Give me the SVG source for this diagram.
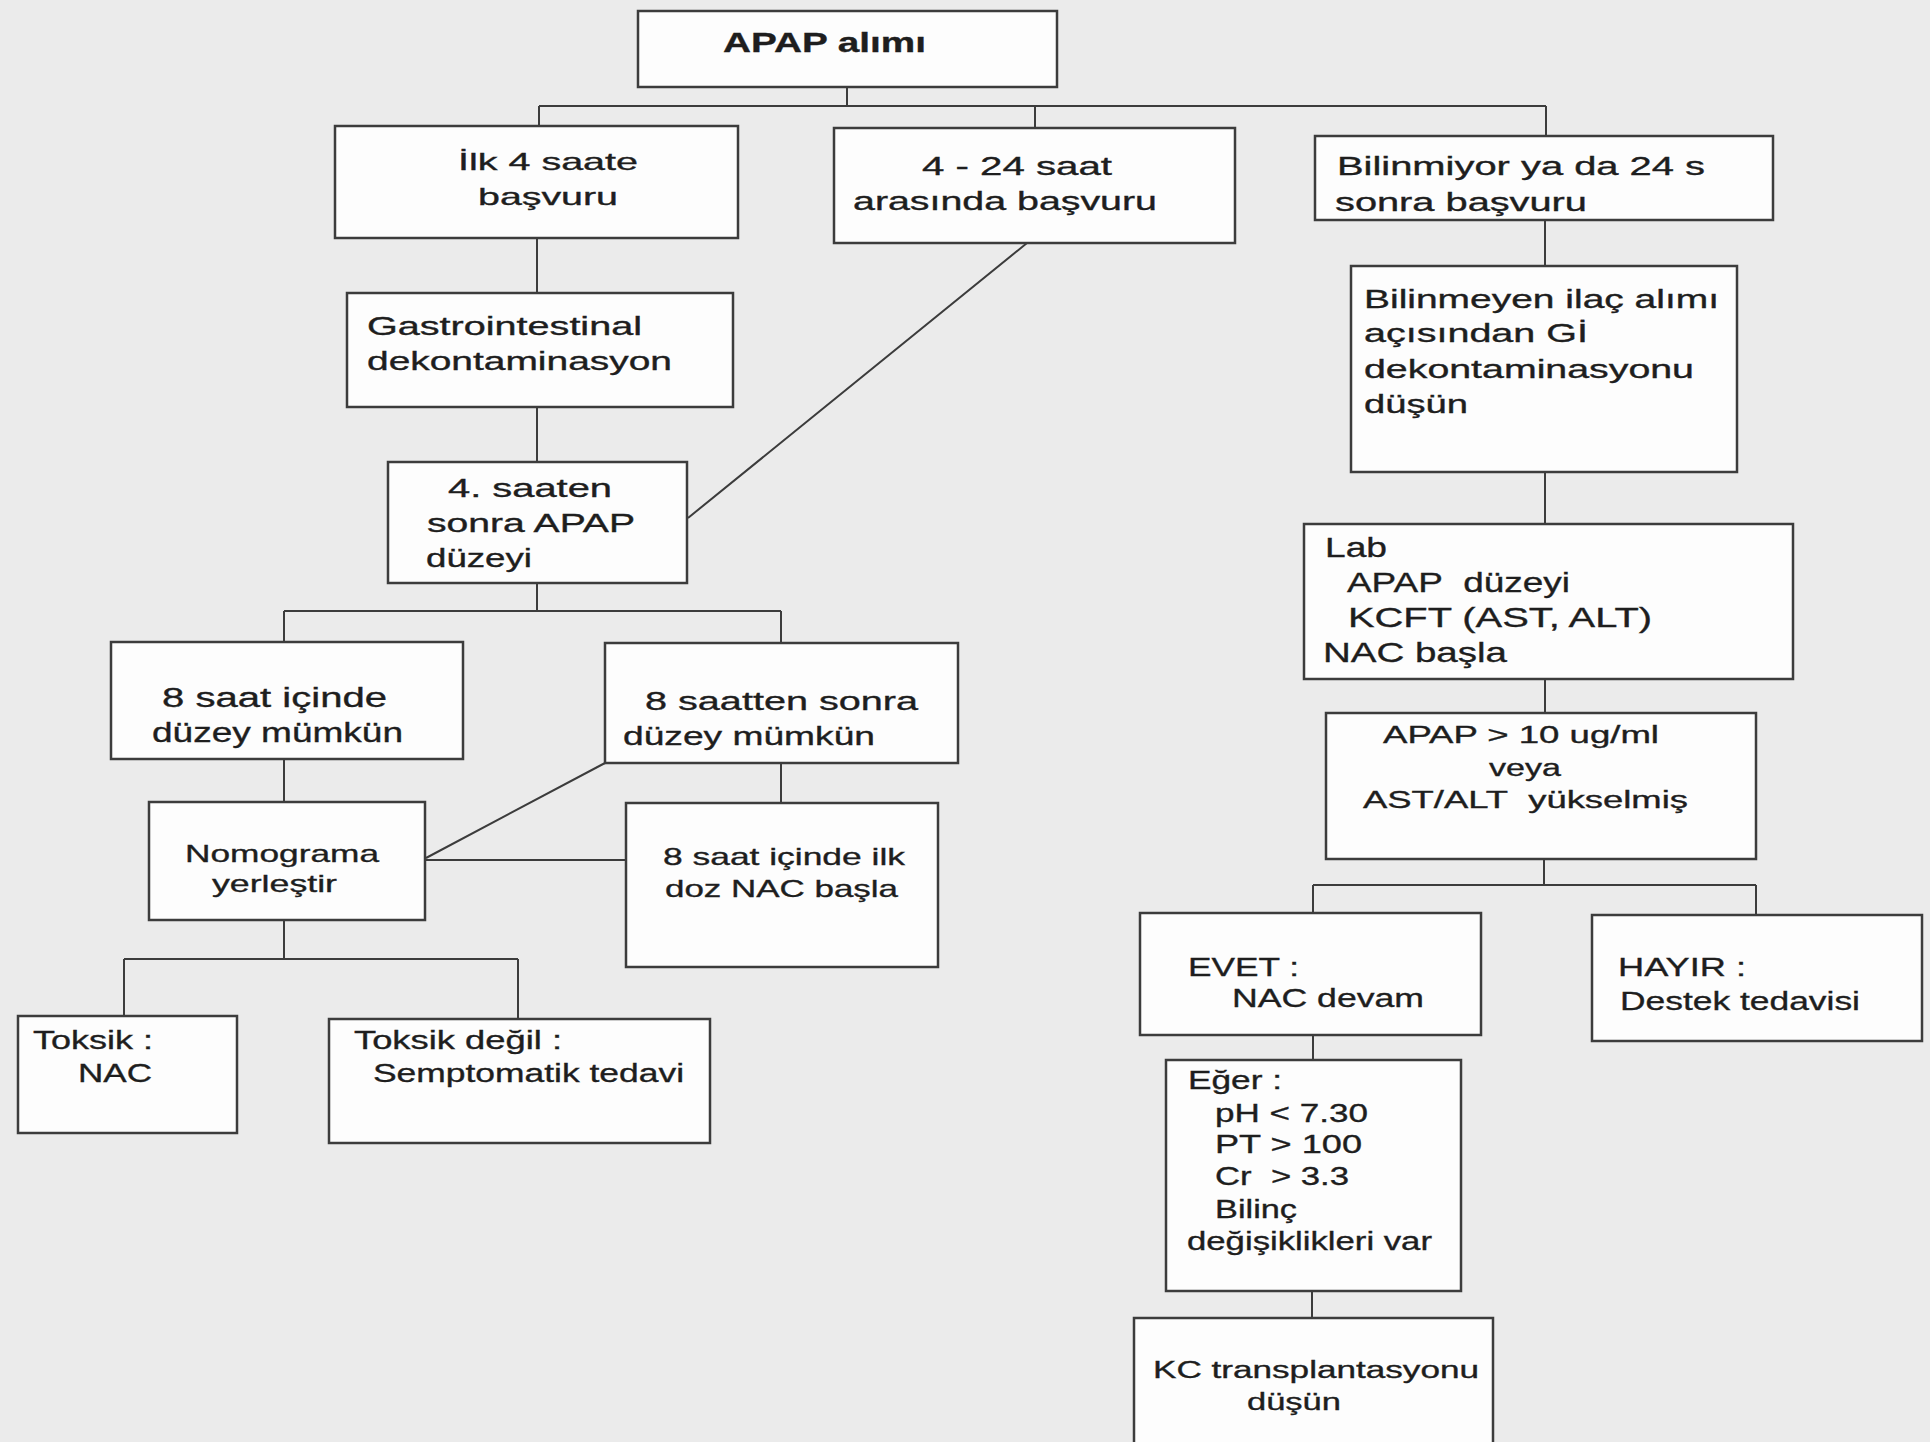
<svg xmlns="http://www.w3.org/2000/svg" width="1930" height="1442" viewBox="0 0 1930 1442">
<style>
.bg{fill:#ebebeb}
.box{fill:#fdfdfd;stroke:#3c3c3c;stroke-width:2.5}
.ln{fill:none;stroke:#3c3c3c;stroke-width:2}
text{font-family:"Liberation Sans",Arial,sans-serif;fill:#1e1e1e;stroke:#1e1e1e;stroke-width:0.35}
.b{font-weight:bold}
</style>
<rect class="bg" x="0" y="0" width="1930" height="1442"/>
<g id="connectors">
<path class="ln" d="M847,87 V106 M539,106 H1546 M539,106 V126 M1035,106 V128 M1546,106 V136"/>
<path class="ln" d="M537,238 V293 M537,407 V462 M1027,243 L688,518"/>
<path class="ln" d="M1545,220 V266 M1545,472 V524 M1545,679 V713"/>
<path class="ln" d="M537,583 V611 M284,611 H781 M284,611 V642 M781,611 V643"/>
<path class="ln" d="M284,759 V802 M781,763 V803 M605,763 L426,858 M425,860 H626"/>
<path class="ln" d="M284,920 V959 M124,959 H518 M124,959 V1016 M518,959 V1019"/>
<path class="ln" d="M1544,859 V885 M1313,885 H1756 M1313,885 V913 M1756,885 V915 M1313,1035 V1060 M1312,1291 V1318"/>
</g>
<g id="n1"><rect class="box" x="638" y="11" width="419" height="76"/>
<text class="b" font-size="28" x="723" y="52" textLength="203" lengthAdjust="spacingAndGlyphs">APAP alımı</text></g>
<g id="n2"><rect class="box" x="335" y="126" width="403" height="112"/>
<g font-size="24"><text x="458" y="170" textLength="180" lengthAdjust="spacingAndGlyphs">İlk 4 saate</text>
<text x="478" y="205" textLength="140" lengthAdjust="spacingAndGlyphs">başvuru</text></g></g>
<g id="n3"><rect class="box" x="834" y="128" width="401" height="115"/>
<g font-size="25"><text x="922" y="175" textLength="190" lengthAdjust="spacingAndGlyphs">4 - 24 saat</text>
<text x="853" y="210" textLength="304" lengthAdjust="spacingAndGlyphs">arasında başvuru</text></g></g>
<g id="n4"><rect class="box" x="1315" y="136" width="458" height="84"/>
<g font-size="25"><text x="1337" y="175" textLength="368" lengthAdjust="spacingAndGlyphs">Bilinmiyor ya da 24 s</text>
<text x="1335" y="211" textLength="252" lengthAdjust="spacingAndGlyphs">sonra başvuru</text></g></g>
<g id="n5"><rect class="box" x="347" y="293" width="386" height="114"/>
<g font-size="25"><text x="367" y="335" textLength="275" lengthAdjust="spacingAndGlyphs">Gastrointestinal</text>
<text x="367" y="370" textLength="305" lengthAdjust="spacingAndGlyphs">dekontaminasyon</text></g></g>
<g id="n6"><rect class="box" x="1351" y="266" width="386" height="206"/>
<g font-size="25"><text x="1364" y="308" textLength="355" lengthAdjust="spacingAndGlyphs">Bilinmeyen ilaç alımı</text>
<text x="1364" y="342" textLength="224" lengthAdjust="spacingAndGlyphs">açısından Gİ</text>
<text x="1364" y="378" textLength="330" lengthAdjust="spacingAndGlyphs">dekontaminasyonu</text>
<text x="1364" y="413" textLength="104" lengthAdjust="spacingAndGlyphs">düşün</text></g></g>
<g id="n7"><rect class="box" x="388" y="462" width="299" height="121"/>
<g font-size="25"><text x="448" y="497" textLength="164" lengthAdjust="spacingAndGlyphs">4. saaten</text>
<text x="427" y="532" textLength="208" lengthAdjust="spacingAndGlyphs">sonra APAP</text>
<text x="426" y="567" textLength="106" lengthAdjust="spacingAndGlyphs">düzeyi</text></g></g>
<g id="n8"><rect class="box" x="1304" y="524" width="489" height="155"/>
<g font-size="28"><text x="1325" y="557" textLength="62" lengthAdjust="spacingAndGlyphs">Lab</text>
<text x="1347" y="592" textLength="223" lengthAdjust="spacingAndGlyphs">APAP&#160; düzeyi</text>
<text x="1348" y="627" textLength="304" lengthAdjust="spacingAndGlyphs">KCFT (AST, ALT)</text>
<text x="1323" y="662" textLength="184" lengthAdjust="spacingAndGlyphs">NAC başla</text></g></g>
<g id="n9"><rect class="box" x="111" y="642" width="352" height="117"/>
<g font-size="27"><text x="162" y="707" textLength="225" lengthAdjust="spacingAndGlyphs">8 saat içinde</text>
<text x="152" y="742" textLength="251" lengthAdjust="spacingAndGlyphs">düzey mümkün</text></g></g>
<g id="n10"><rect class="box" x="605" y="643" width="353" height="120"/>
<g font-size="26"><text x="645" y="710" textLength="273" lengthAdjust="spacingAndGlyphs">8 saatten sonra</text>
<text x="623" y="745" textLength="252" lengthAdjust="spacingAndGlyphs">düzey mümkün</text></g></g>
<g id="n11"><rect class="box" x="1326" y="713" width="430" height="146"/>
<g font-size="23.5"><text x="1383" y="743" textLength="276" lengthAdjust="spacingAndGlyphs">APAP &gt; 10 ug/ml</text>
<text x="1489" y="776" textLength="72" lengthAdjust="spacingAndGlyphs">veya</text>
<text x="1363" y="808" textLength="325" lengthAdjust="spacingAndGlyphs">AST/ALT&#160; yükselmiş</text></g></g>
<g id="n12"><rect class="box" x="149" y="802" width="276" height="118"/>
<g font-size="24"><text x="185" y="862" textLength="194" lengthAdjust="spacingAndGlyphs">Nomograma</text>
<text x="212" y="892" textLength="125" lengthAdjust="spacingAndGlyphs">yerleştir</text></g></g>
<g id="n13"><rect class="box" x="626" y="803" width="312" height="164"/>
<g font-size="24"><text x="663" y="865" textLength="242" lengthAdjust="spacingAndGlyphs">8 saat içinde ilk</text>
<text x="665" y="897" textLength="233" lengthAdjust="spacingAndGlyphs">doz NAC başla</text></g></g>
<g id="n14"><rect class="box" x="1140" y="913" width="341" height="122"/>
<g font-size="26"><text x="1188" y="976" textLength="111" lengthAdjust="spacingAndGlyphs">EVET :</text>
<text x="1232" y="1007" textLength="192" lengthAdjust="spacingAndGlyphs">NAC devam</text></g></g>
<g id="n15"><rect class="box" x="1592" y="915" width="330" height="126"/>
<g font-size="26"><text x="1618" y="976" textLength="128" lengthAdjust="spacingAndGlyphs">HAYIR :</text>
<text x="1620" y="1010" textLength="240" lengthAdjust="spacingAndGlyphs">Destek tedavisi</text></g></g>
<g id="n16"><rect class="box" x="18" y="1016" width="219" height="117"/>
<g font-size="26"><text x="33" y="1049" textLength="120" lengthAdjust="spacingAndGlyphs">Toksik :</text>
<text x="78" y="1082" textLength="74" lengthAdjust="spacingAndGlyphs">NAC</text></g></g>
<g id="n17"><rect class="box" x="329" y="1019" width="381" height="124"/>
<g font-size="26"><text x="354" y="1049" textLength="208" lengthAdjust="spacingAndGlyphs">Toksik değil :</text>
<text x="373" y="1082" textLength="311" lengthAdjust="spacingAndGlyphs">Semptomatik tedavi</text></g></g>
<g id="n18"><rect class="box" x="1166" y="1060" width="295" height="231"/>
<g font-size="25"><text x="1188" y="1089" textLength="94" lengthAdjust="spacingAndGlyphs">Eğer :</text>
<text x="1215" y="1122" textLength="153" lengthAdjust="spacingAndGlyphs">pH &lt; 7.30</text>
<text x="1215" y="1153" textLength="147" lengthAdjust="spacingAndGlyphs">PT &gt; 100</text>
<text x="1215" y="1185" textLength="134" lengthAdjust="spacingAndGlyphs">Cr&#160; &gt; 3.3</text>
<text x="1215" y="1218" textLength="82" lengthAdjust="spacingAndGlyphs">Bilinç</text>
<text x="1187" y="1250" textLength="245" lengthAdjust="spacingAndGlyphs">değişiklikleri var</text></g></g>
<g id="n19"><rect class="box" x="1134" y="1318" width="359" height="140"/>
<g font-size="23"><text x="1153" y="1378" textLength="326" lengthAdjust="spacingAndGlyphs">KC transplantasyonu</text>
<text x="1247" y="1410" textLength="94" lengthAdjust="spacingAndGlyphs">düşün</text></g></g>
</svg>
